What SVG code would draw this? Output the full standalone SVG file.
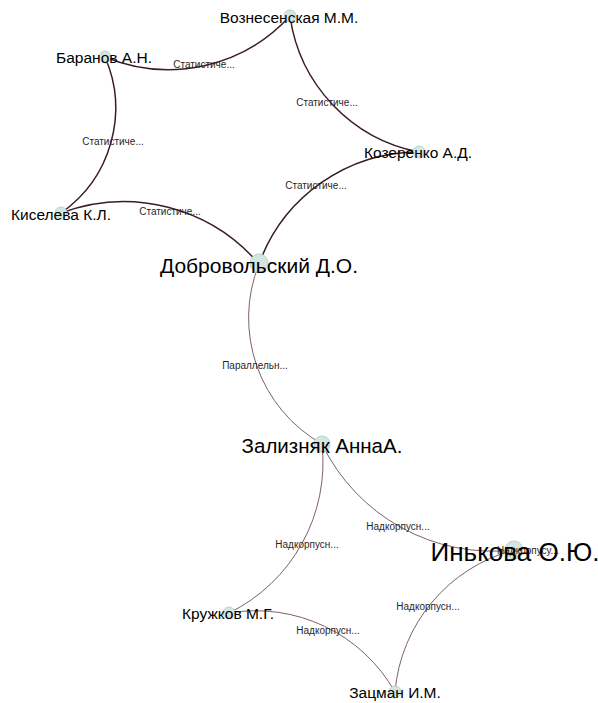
<svg xmlns="http://www.w3.org/2000/svg" width="598" height="703" viewBox="0 0 598 703">
<style>
.e{fill:none}
.dark{stroke:#3b1c25;stroke-width:1.5}
.light{stroke:#7d6168;stroke-width:1}
.el{font-family:"Liberation Sans",Arial,sans-serif;font-size:10px;fill:#2e1f25;text-anchor:middle}
.n circle{fill:#d3e6e0;stroke:#b9d3cc;stroke-width:1}
.n text{font-family:"Liberation Sans",Arial,sans-serif;fill:#000;text-anchor:middle}
</style>
<rect width="598" height="703" fill="#fff"/>
<g id="edges">
<path class="e dark" d="M105,57 A165,165 0 0,0 290,16"/>
<path class="e dark" d="M290,16 A161,161 0 0,0 419,152"/>
<path class="e dark" d="M105,57 A128,128 0 0,1 61,213"/>
<path class="e dark" d="M61,213 A178,178 0 0,1 259,264"/>
<path class="e dark" d="M419,152 A170,170 0 0,0 259,264"/>
<path class="e light" d="M259,264 A145,145 0 0,0 322,444"/>
<path class="e light" d="M322,444 A168,168 0 0,1 229,613"/>
<path class="e light" d="M322,444 A190,190 0 0,0 514,550"/>
<path class="e light" d="M229,613 A160,160 0 0,1 395,692"/>
<path class="e light" d="M514,550 A161,161 0 0,0 395,692"/>
</g>
<g id="nodes-circles">
<g class="n" id="c-voz"><circle cx="290" cy="16" r="6"/></g>
<g class="n" id="c-bar"><circle cx="105" cy="57" r="6"/></g>
<g class="n" id="c-kis"><circle cx="61" cy="213" r="6"/></g>
<g class="n" id="c-koz"><circle cx="419" cy="152" r="6"/></g>
<g class="n" id="c-dob"><circle cx="259" cy="263" r="9"/></g>
<g class="n" id="c-zal"><circle cx="322" cy="444" r="8"/></g>
<g class="n" id="c-ink"><circle cx="514" cy="550" r="9"/></g>
<g class="n" id="c-kru"><circle cx="229" cy="613" r="6"/></g>
<g class="n" id="c-zac"><circle cx="395" cy="692" r="6"/></g>
</g>
<g id="edge-labels">
<text class="el" x="204" y="68">Статистиче...</text>
<text class="el" x="113" y="145">Статистиче...</text>
<text class="el" x="170" y="215">Статистиче...</text>
<text class="el" x="327" y="106">Статистиче...</text>
<text class="el" x="316" y="189">Статистиче...</text>
<text class="el" x="255" y="369">Параллельн...</text>
<text class="el" x="307" y="548">Надкорпусн...</text>
<text class="el" x="398" y="530">Надкорпусн...</text>
<text class="el" x="428" y="610">Надкорпусн...</text>
<text class="el" x="328" y="634">Надкорпусн...</text>
<text class="el" x="528" y="554">Надкорпусу...</text>
</g>
<g id="node-labels">
<g class="n" id="voz"><text x="289" y="23" font-size="15.5">Вознесенская М.М.</text></g>
<g class="n" id="bar"><text x="104" y="63" font-size="15.5">Баранов А.Н.</text></g>
<g class="n" id="kis"><text x="61" y="220" font-size="15.5">Киселева К.Л.</text></g>
<g class="n" id="koz"><text x="418" y="158" font-size="15.5">Козеренко А.Д.</text></g>
<g class="n" id="dob"><text x="259" y="273" font-size="21">Добровольский Д.О.</text></g>
<g class="n" id="zal"><text x="322" y="453" font-size="20.5">Зализняк АннаА.</text></g>
<g class="n" id="ink"><text x="515" y="561" font-size="26">Инькова О.Ю.</text></g>
<g class="n" id="kru"><text x="228" y="619" font-size="15.5">Кружков М.Г.</text></g>
<g class="n" id="zac"><text x="395" y="698" font-size="15.5">Зацман И.М.</text></g>
</g>
</svg>
